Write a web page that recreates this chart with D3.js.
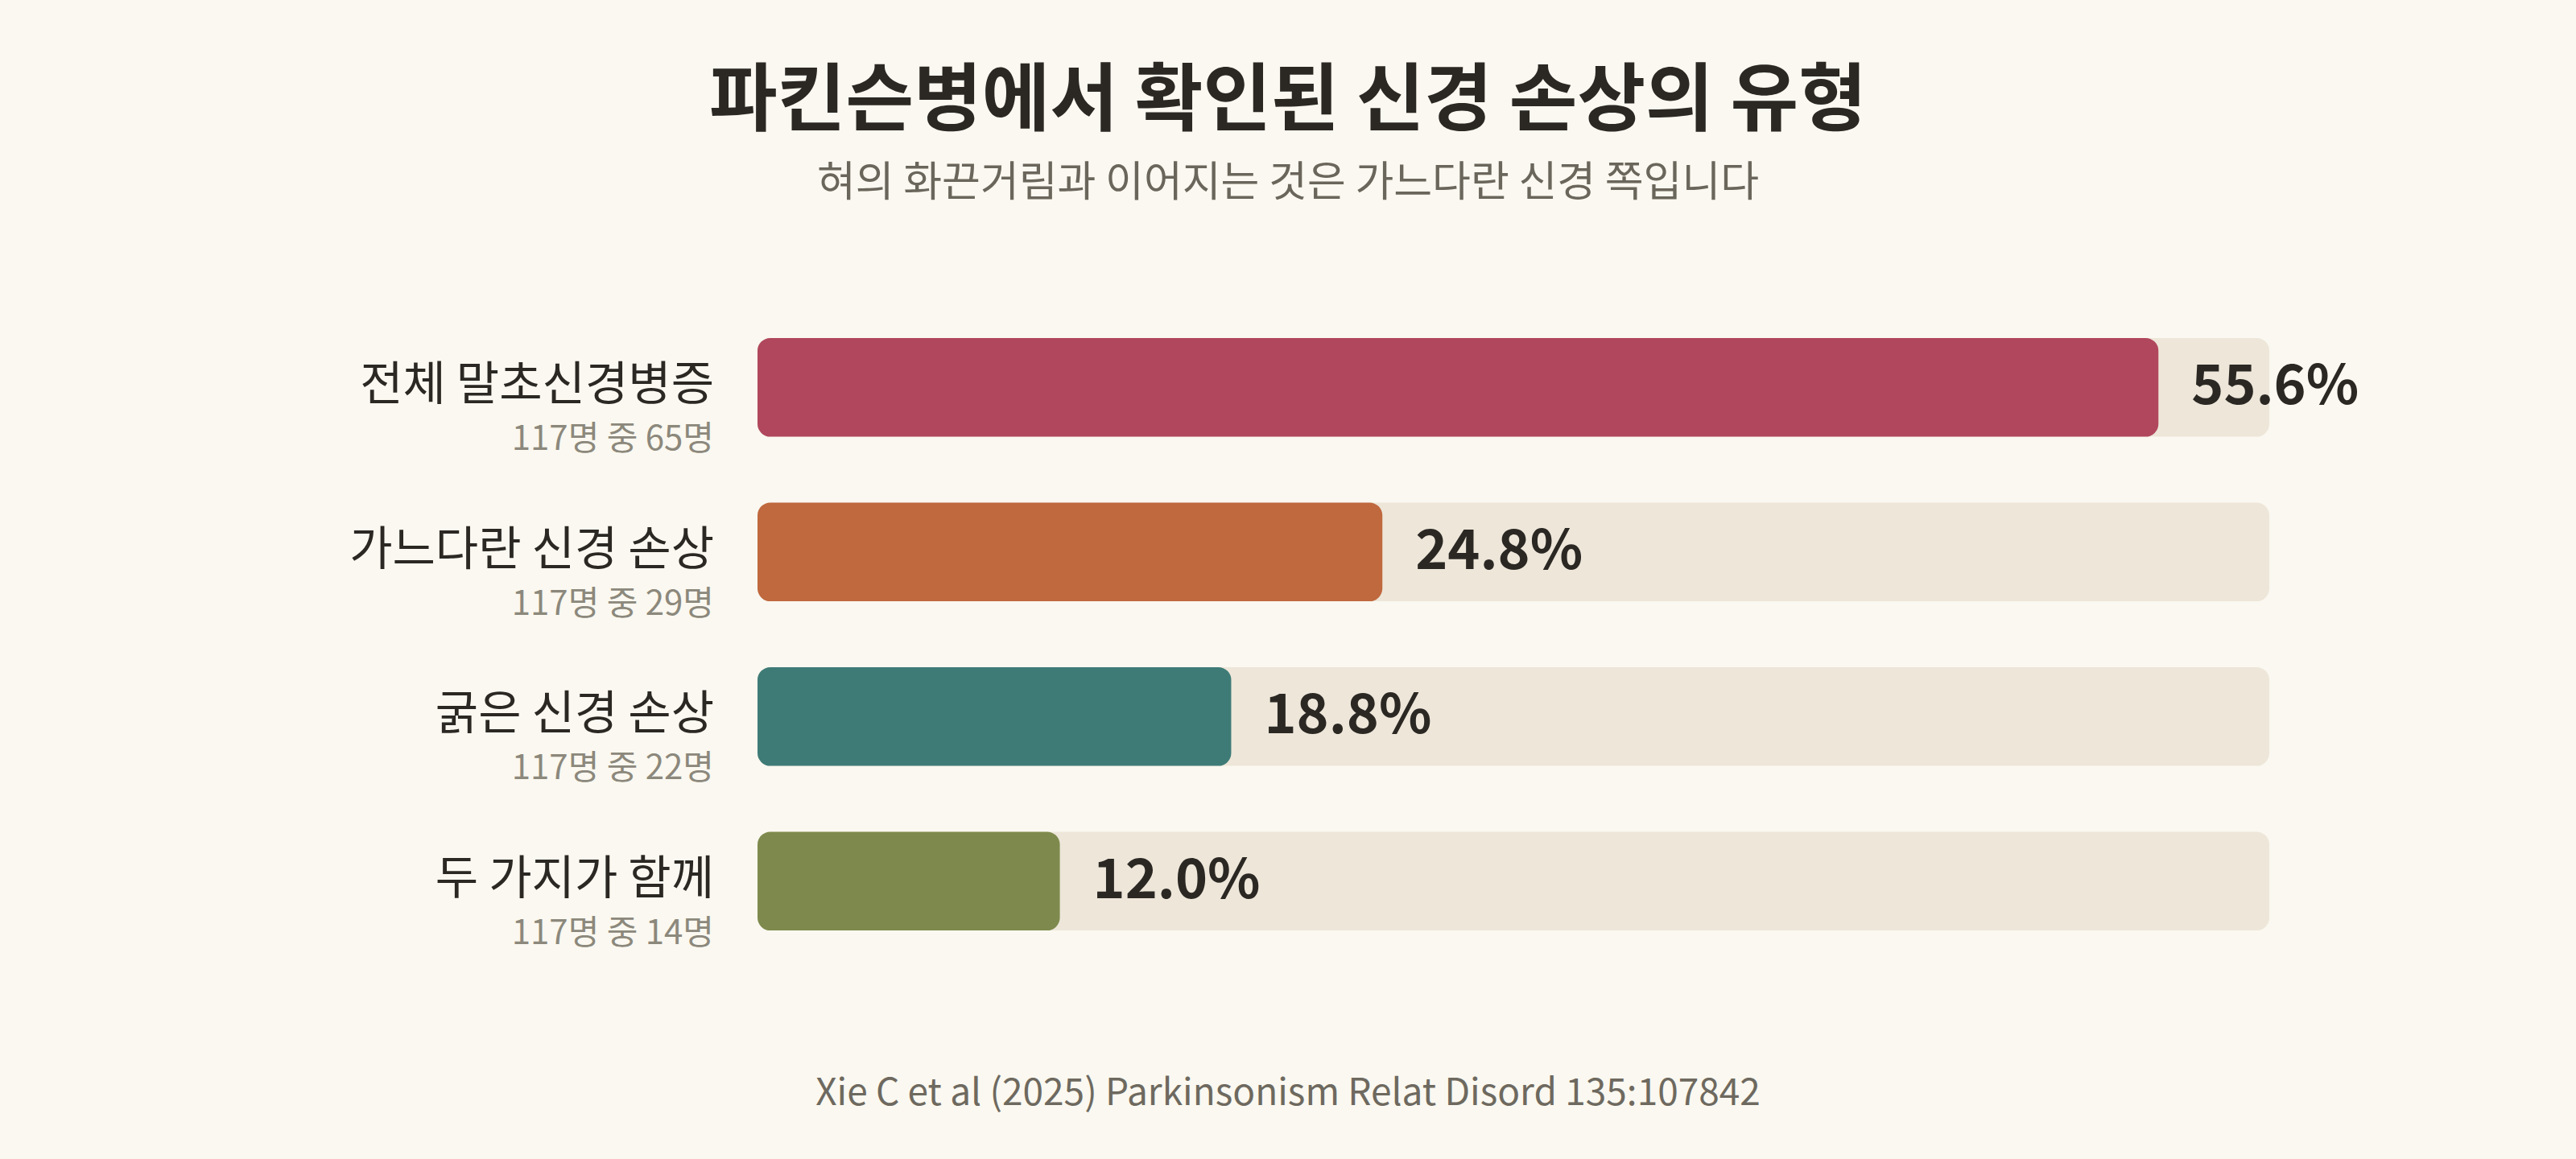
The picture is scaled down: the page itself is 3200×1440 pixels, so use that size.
<!DOCTYPE html>
<html>
<head>
<meta charset="utf-8">
<script src="https://cdn.jsdelivr.net/npm/d3@7"></script>
<style>
  html, body { margin: 0; padding: 0; background: #faf8f0; }
  svg { display: block; }
  text { font-family: "Noto Sans CJK KR", "Noto Sans", sans-serif; }
</style>
</head>
<body>
<div id="chart"></div>
<script>
// data
var categories = ["전체 말초신경병증", "가느다란 신경 손상", "굵은 신경 손상", "두 가지가 함께"];
var percents = [55.6, 24.8, 18.8, 12.0];
var counts = [65, 29, 22, 14];
var total = 117;
var colors = ["#b0475c", "#c0683e", "#3e7b77", "#7e8a4d"];
var domainMax = 60;

var title = "파킨슨병에서 확인된 신경 손상의 유형";
var subtitle = "혀의 화끈거림과 이어지는 것은 가느다란 신경 쪽입니다";
var source = "Xie C et al (2025) Parkinsonism Relat Disord 135:107842";

var width = 3200, height = 1440;

var svg = d3.select("#chart")
    .append("svg")
    .attr("width", width)
    .attr("height", height);

svg.append("rect")
    .attr("width", width)
    .attr("height", height)
    .attr("fill", "#faf8f0");

var x = d3.scaleLinear()
    .domain([0, domainMax])
    .range([941, 2819]);

var y = d3.scaleBand()
    .domain(categories)
    .range([379, 1197])
    .paddingInner(0.4)
    .paddingOuter(0.2);

// title block
svg.append("text")
    .attr("x", width / 2)
    .attr("y", 155)
    .attr("text-anchor", "middle")
    .attr("font-size", 92)
    .attr("font-weight", 700)
    .attr("fill", "#2b2824")
    .text(title);

svg.append("text")
    .attr("x", width / 2)
    .attr("y", 244)
    .attr("text-anchor", "middle")
    .attr("font-size", 52)
    .attr("fill", "#6b665c")
    .text(subtitle);

var rows = svg.selectAll(".row")
    .data(categories)
    .enter().append("g")
    .attr("class", "row")
    .attr("transform", function (d) { return "translate(0," + y(d) + ")"; });

// background track
rows.append("rect")
    .attr("x", x(0))
    .attr("width", x(domainMax) - x(0))
    .attr("height", y.bandwidth())
    .attr("rx", 16)
    .attr("fill", "#ede6d9");

// value bar
rows.append("rect")
    .attr("x", x(0))
    .attr("width", function (d, i) { return x(percents[i]) - x(0); })
    .attr("height", y.bandwidth())
    .attr("rx", 16)
    .attr("fill", function (d, i) { return colors[i]; });

var mid = y.bandwidth() / 2;

// category label
rows.append("text")
    .attr("x", 887)
    .attr("y", mid + 16)
    .attr("text-anchor", "end")
    .attr("font-size", 58)
    .attr("fill", "#2b2824")
    .text(function (d) { return d; });

// count label
rows.append("text")
    .attr("x", 887)
    .attr("y", mid + 78)
    .attr("text-anchor", "end")
    .attr("font-size", 42)
    .attr("fill", "#8c887c")
    .text(function (d, i) { return total + "명 중 " + counts[i] + "명"; });

// percentage label
rows.append("text")
    .attr("x", function (d, i) { return x(percents[i]) + 41; })
    .attr("y", mid + 21)
    .attr("font-size", 68)
    .attr("font-weight", 700)
    .attr("fill", "#2b2824")
    .text(function (d, i) { return percents[i].toFixed(1) + "%"; });

// source
svg.append("text")
    .attr("x", width / 2)
    .attr("y", 1373)
    .attr("text-anchor", "middle")
    .attr("font-size", 46)
    .attr("fill", "#6e695f")
    .text(source);
</script>
</body>
</html>
